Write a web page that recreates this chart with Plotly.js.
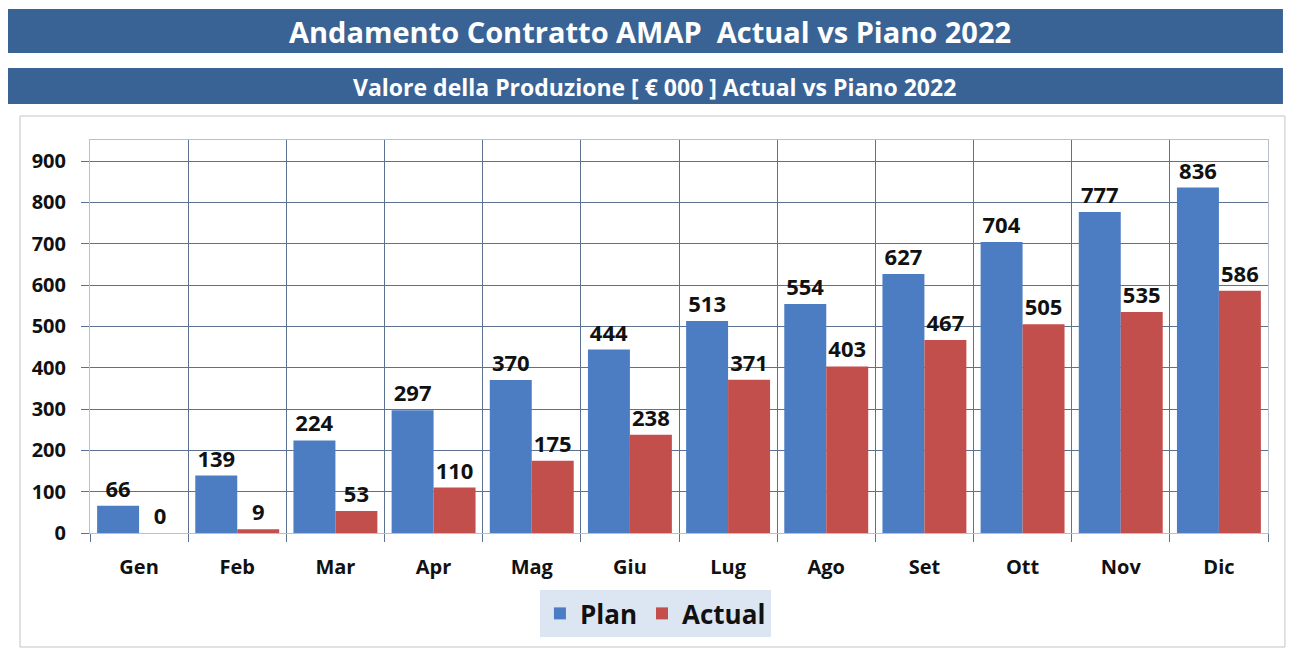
<!DOCTYPE html>
<html>
<head>
<meta charset="utf-8">
<script src="https://cdn.plot.ly/plotly-3.0.1.min.js"></script>
<style>
  html, body { margin: 0; padding: 0; background: #ffffff; }
  #chart { width: 1290px; height: 651px; }
</style>
</head>
<body>
<div id="chart"></div>
<script>
const months = ["Gen", "Feb", "Mar", "Apr", "Mag", "Giu", "Lug", "Ago", "Set", "Ott", "Nov", "Dic"];
const planValues = [66, 139, 224, 297, 370, 444, 513, 554, 627, 704, 777, 836];
const actualValues = [0, 9, 53, 110, 175, 238, 371, 403, 467, 505, 535, 586];
const seriesNames = ["Plan", "Actual"];
const mainTitle = "Andamento Contratto AMAP  Actual vs Piano 2022";
const subTitle = "Valore della Produzione [ € 000 ] Actual vs Piano 2022";

const FONT = "Open Sans, Noto Sans, sans-serif";
const gridColor = "#5d7290";
const banner = "#3a6395";

const labelFont = { family: FONT, size: 22, color: "#111111", weight: 700 };

const traces = [
  {
    type: "bar", name: seriesNames[0], x: months, y: planValues,
    marker: { color: "#4c7dc3", line: { width: 0 } },
    text: planValues.map(String), textposition: "outside",
    textfont: labelFont, cliponaxis: false, hoverinfo: "x+y"
  },
  {
    type: "bar", name: seriesNames[1], x: months, y: actualValues,
    marker: { color: "#c34f4c", line: { width: 0 } },
    text: actualValues.map(String), textposition: "outside",
    textfont: labelFont, cliponaxis: false, hoverinfo: "x+y"
  }
];

const layout = {
  width: 1290, height: 651,
  margin: { l: 90, r: 22, t: 140, b: 118 },
  paper_bgcolor: "#ffffff", plot_bgcolor: "#ffffff",
  barmode: "group", bargap: 0.145, bargroupgap: 0,
  font: { family: FONT, color: "#111111" },
  showlegend: true,
  legend: {
    orientation: "h", x: 0.48, xanchor: "center", y: -0.145, yanchor: "top",
    bgcolor: "#dce6f2", borderwidth: 0,
    font: { family: FONT, size: 26, color: "#111111", weight: 700 },
    itemwidth: 30, traceorder: "normal"
  },
  xaxis: {
    type: "category", tickson: "boundaries",
    showgrid: true, gridcolor: gridColor, gridwidth: 1,
    ticks: "outside", ticklen: 8, tickcolor: gridColor,
    ticklabelstandoff: 16,
    tickfont: { family: FONT, size: 20, color: "#111111", weight: 700 },
    showline: true, linecolor: "#b8c0cc", mirror: true,
    fixedrange: true
  },
  yaxis: {
    range: [0, 951], dtick: 100, tick0: 0,
    showgrid: true, gridcolor: gridColor, gridwidth: 1,
    zeroline: true, zerolinecolor: gridColor, zerolinewidth: 1,
    ticks: "outside", ticklen: 8, tickcolor: gridColor,
    ticklabelstandoff: 11,
    tickfont: { family: FONT, size: 20, color: "#111111", weight: 700 },
    showline: true, linecolor: "#b8c0cc", mirror: true,
    fixedrange: true
  },
  shapes: [
    { type: "rect", xref: "paper", yref: "paper", x0: -0.0696, x1: 1.0127, y0: 1.2214, y1: 1.3333,
      fillcolor: banner, line: { width: 0 }, layer: "below" },
    { type: "rect", xref: "paper", yref: "paper", x0: -0.0696, x1: 1.0127, y0: 1.0916, y1: 1.1832,
      fillcolor: banner, line: { width: 0 }, layer: "below" },
    { type: "rect", xref: "paper", yref: "paper", x0: -0.0594, x1: 1.0144, y0: -0.2901, y1: 1.0611,
      fillcolor: "rgba(0,0,0,0)", line: { width: 1, color: "#c4c4c4" }, layer: "below" }
  ],
  annotations: [
    { text: mainTitle, xref: "paper", yref: "paper", x: 0.4754, y: 1.277, showarrow: false,
      xanchor: "center", yanchor: "middle",
      font: { family: FONT, size: 29, color: "#ffffff", weight: 700 } },
    { text: subTitle, xref: "paper", yref: "paper", x: 0.4796, y: 1.135, showarrow: false,
      xanchor: "center", yanchor: "middle",
      font: { family: FONT, size: 23, color: "#ffffff", weight: 700 } }
  ]
};

Plotly.newPlot("chart", traces, layout, { displayModeBar: false, staticPlot: true });
</script>
</body>
</html>
